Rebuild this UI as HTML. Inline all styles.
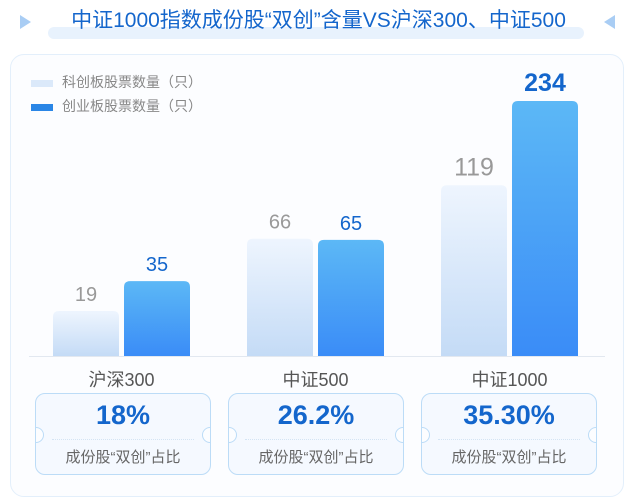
<!DOCTYPE html>
<html><head><meta charset="utf-8"><style>
body{margin:0;width:637px;height:500px;background:#fff;font-family:"Liberation Sans","Noto Sans CJK SC",sans-serif;position:relative;overflow:hidden}
.t{position:absolute}
</style></head><body>
<div class="t" style="left:48px;top:27px;width:536px;height:12px;background:#e8f2fd;border-radius:6px"></div>
<div class="t" style="left:20px;top:15px;width:0;height:0;border-top:7px solid transparent;border-bottom:7px solid transparent;border-left:11px solid #a9cdf4"></div>
<div class="t" style="left:604px;top:15px;width:0;height:0;border-top:7px solid transparent;border-bottom:7px solid transparent;border-right:11px solid #a9cdf4"></div>
<div class="t" style="left:0;width:637px;top:6px;text-align:center;font-size:21px;color:#1466cc;line-height:30px">中证1000指数成份股“双创”含量VS沪深300、中证500</div>
<div class="t" style="left:10px;top:54px;width:612px;height:441px;border:1px solid #e3effb;border-radius:14px;background:#fcfdff"></div>
<div class="t" style="left:31px;top:80px;width:22px;height:7px;background:#dbe9fa"></div>
<div class="t" style="left:62px;top:72px;font-size:14px;color:#888">科创板股票数量（只）</div>
<div class="t" style="left:31px;top:104px;width:22px;height:7px;background:#2a86e6"></div>
<div class="t" style="left:62px;top:96px;font-size:14px;color:#888">创业板股票数量（只）</div>
<svg class="t" style="left:0;top:0" width="637" height="500">
<defs>
<linearGradient id="gl" x1="0" y1="0" x2="0" y2="1"><stop offset="0" stop-color="#eef5fe"/><stop offset="1" stop-color="#c4dbf6"/></linearGradient>
<linearGradient id="gd" x1="0" y1="0" x2="0" y2="1"><stop offset="0" stop-color="#5cb8f6"/><stop offset="1" stop-color="#3a8cf7"/></linearGradient>
</defs>
<line x1="29" y1="356.5" x2="605" y2="356.5" stroke="#e2e8f0"/>
<g id="bars"></g>
</svg>
<div id="boxes"></div>
<script>
const categories=["沪深300","中证500","中证1000"];
const starCounts=[19,66,119];
const gemCounts=[35,65,234];
const ratios=["18%","26.2%","35.30%"];
const base=356;
function yh(v){return Math.max(10,-38.7+19.2*Math.sqrt(v));}
const groupX=[53,247,441];
const svg=document.getElementById('bars');
const NS='http://www.w3.org/2000/svg';
function bar(x,v,fill,name,color,big){
  const h=yh(v);
  const p=document.createElementNS(NS,'path');
  const r=6,w=66,y=base-h;
  p.setAttribute('d',`M${x},${base}V${y+r}Q${x},${y} ${x+r},${y}H${x+w-r}Q${x+w},${y} ${x+w},${y+r}V${base}Z`);
  p.setAttribute('fill',fill);
  
  
  svg.appendChild(p);
  const t=document.createElementNS(NS,'text');
  t.setAttribute('x',x+w/2);t.setAttribute('y',y-10);
  t.setAttribute('text-anchor','middle');
  t.setAttribute('font-size',big?25:20);
  t.setAttribute('font-weight',big&&color!=='#999'?'bold':'normal');
  t.setAttribute('fill',color);
  t.textContent=v;
  
  
  svg.appendChild(t);
}
const boxes=document.getElementById('boxes');
categories.forEach((c,i)=>{
  const big=i===2;
  bar(groupX[i],starCounts[i],'url(#gl)','bar-star-'+i,'#999',big);
  bar(groupX[i]+71,gemCounts[i],'url(#gd)','bar-gem-'+i,'#1466cc',big);
  const lab=document.createElement('div');
  lab.className='t';
  
  
  lab.style.cssText=`left:${groupX[i]-20}px;width:177px;top:366px;text-align:center;font-size:18px;color:#555`;
  lab.textContent=c;
  document.body.appendChild(lab);
  const b=document.createElement('div');
  b.className='t';
  
  
  const bx=35+i*193;
  b.style.cssText=`left:${bx}px;top:393px;width:176px;height:82px;border:1.5px solid #bcdcf7;border-radius:10px;background:#f5f9ff;box-sizing:border-box`;
  b.innerHTML=`<div style="position:absolute;left:0;width:100%;top:6px;text-align:center;font-size:27px;font-weight:bold;color:#1466cc">${ratios[i]}</div>
<div style="position:absolute;left:16px;right:16px;top:45px;border-top:1px dotted #d4e4f4"></div>
<div style="position:absolute;left:0;width:100%;top:52px;text-align:center;font-size:15px;color:#666">成份股“双创”占比</div>
<div style="position:absolute;left:-8px;top:33px;width:14px;height:14px;border-radius:50%;background:#fcfdff;border:1.5px solid #bcdcf7;clip-path:inset(0 0 0 50%)"></div>
<div style="position:absolute;right:-8px;top:33px;width:14px;height:14px;border-radius:50%;background:#fcfdff;border:1.5px solid #bcdcf7;clip-path:inset(0 50% 0 0)"></div>`;
  boxes.appendChild(b);
});
</script>
</body></html>
